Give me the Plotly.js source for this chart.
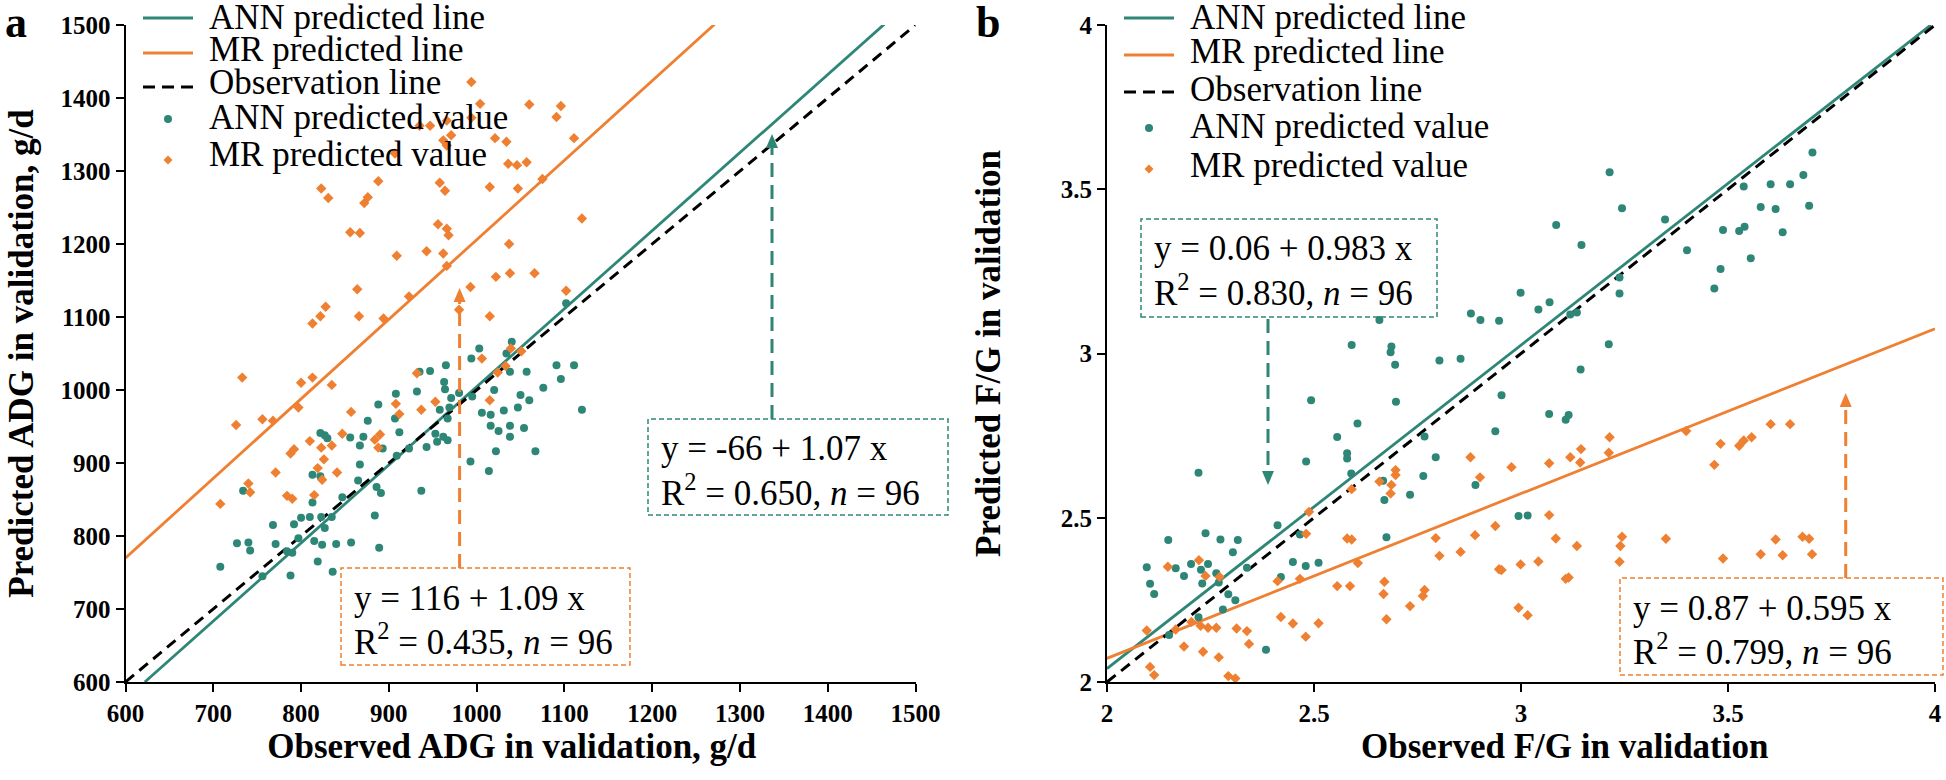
<!DOCTYPE html>
<html>
<head>
<meta charset="utf-8">
<script src="https://cdn.plot.ly/plotly-3.0.1.min.js"></script>
<style>
html,body{margin:0;padding:0;background:#ffffff;}
#chart{width:1946px;height:780px;}
</style>
</head>
<body>
<div id="chart"></div>
<script>
// ---------------- DATA ----------------
// Panel a: ADG (g/d), points as [observed, predicted]
const adgAnnPoints = [
 [1040,1066],[1003,1057],[994,1043],[1034,1050],[1102,1119],
 [708,758],[727,790],[740,791],[742,780],[734,862],[756,745],[768,815],[771,789],[784,779],[788,746],
 [790,777],[792,816],[797,797],[800,825],[810,826],[813,846],[813,884],[822,882],[815,793],[819,765],
 [823,826],[824,788],[827,811],[835,826],[836,751],[822,941],[827,938],[830,934],[840,789],[847,853],
 [857,791],[856,935],[865,876],[867,924],[867,898],[871,936],[876,958],[884,828],[886,867],[891,859],
 [889,784],[888,980],[893,920],[907,961],[908,995],[912,942],[909,910],[923,920],[932,998],[935,1025],
 [937,862],[943,922],[947,1026],[953,940],[955,929],[958,973],[962,936],[965,1034],[963,1011],[964,1001],
 [967,931],[967,961],[969,976],[971,989],[980,996],[993,902],[995,991],[1006,969],[1014,889],[1016,951],
 [1016,966],[1020,1000],[1022,916],[1025,944],[1031,972],[1038,1025],[1038,951],[1038,936],[1047,976],
 [1050,993],[1054,948],[1057,1025],[1060,986],[1067,916],[1076,1003],[1091,1034],[1096,1015],[1111,1034],[1120,973]
];
const adgMrPoints = [
 [994,1422],[1004,1392],[994,1373],[935,1362],[947,1362],[966,1369],[962,1342],[971,1349],[966,1335],
 [1021,1345],[1034,1340],[907,1324],[1036,1310],[1046,1308],[888,1286],[958,1284],[964,1273],[1015,1278],
 [1047,1276],[823,1276],[831,1263],[876,1264],[872,1256],[856,1216],[867,1215],[956,1227],[966,1221],
 [968,1212],[1037,1200],[909,1184],[943,1190],[962,1187],
 [1060,1391],[1096,1389],[1091,1374],[1111,1345],[1057,1312],[1075,1289],[1120,1235],[966,1170],
 [1038,1160],[1022,1155],[1066,1160],[1102,1136],[864,1138],[828,1114],[822,1101],[813,1091],[866,1101],
 [894,1098],[923,1128],[993,1141],[980,1110],[1015,1101],[1039,1057],[1006,1043],
 [733,1017],[813,1017],[800,1010],[835,1007],[797,976],[726,952],[756,960],[768,958],[857,970],[810,930],
 [823,921],[835,924],[788,913],[792,919],[826,905],[819,893],[824,877],[841,887],[847,940],[884,932],
 [890,939],[888,921],[771,887],[740,872],[742,860],[708,844],[784,855],[790,851],[815,856],[908,981],
 [912,967],[937,973],[932,1023],[953,984],[1015,986],[1024,1024],[1033,1033],[1051,1053]
];
// Panel b: F/G, points as [observed, predicted]
const fgAnnPoints = [
 [3.214,3.552],[3.244,3.442],[3.348,3.408],[3.085,3.391],[3.146,3.330],[3.401,3.314],[3.538,3.508],
 [3.603,3.515],[3.650,3.515],[3.579,3.446],[3.615,3.440],[3.488,3.376],[3.527,3.373],[3.540,3.386],
 [3.632,3.369],[3.555,3.290],[3.482,3.257],[3.467,3.198],[3.238,3.231],[3.238,3.183],[2.999,3.185],
 [3.042,3.134],[3.069,3.156],[3.119,3.119],[3.135,3.125],[2.879,3.122],[2.902,3.102],[2.947,3.100],
 [2.658,3.102],[2.591,3.026],[2.687,3.021],[2.685,3.004],[2.696,2.966],[2.803,2.979],[2.854,2.984],
 [3.212,3.028],[3.144,2.951],[3.704,3.612],[3.682,3.543],[3.696,3.450],
 [2.493,2.858],[2.698,2.853],[2.953,2.873],[2.605,2.787],[2.556,2.746],[2.580,2.696],[2.580,2.680],
 [2.481,2.671],[2.590,2.635],[2.767,2.747],[2.794,2.684],[2.764,2.627],[2.667,2.613],[2.670,2.554],
 [2.732,2.570],[2.675,2.441],[2.938,2.763],[2.890,2.600],[3.068,2.816],[3.108,2.798],[3.115,2.813],
 [2.994,2.505],[3.016,2.507],[2.412,2.477],[2.466,2.449],[2.420,2.320],[2.449,2.365],[2.480,2.353],
 [2.511,2.363],[2.338,2.348],[2.384,2.098],
 [2.221,2.637],[2.148,2.432],[2.238,2.453],[2.274,2.434],[2.316,2.432],[2.304,2.395],[2.096,2.349],
 [2.104,2.299],[2.114,2.268],[2.166,2.346],[2.186,2.323],[2.203,2.359],[2.227,2.342],[2.244,2.359],
 [2.230,2.300],[2.264,2.331],[2.270,2.303],[2.293,2.267],[2.310,2.249],[2.280,2.221],[2.221,2.197],[2.150,2.143]
];
const fgMrPoints = [
 [2.697,2.645],[2.697,2.630],[2.658,2.610],[2.687,2.600],[2.685,2.574],[2.591,2.587],[2.878,2.684],
 [2.901,2.623],[2.977,2.654],[3.068,2.666],[3.119,2.684],[3.145,2.709],[3.143,2.668],[3.214,2.745],
 [3.212,2.698],[3.399,2.764],[3.482,2.725],[3.467,2.661],[3.527,2.719],[3.538,2.735],[3.557,2.745],
 [3.603,2.785],[3.650,2.785],[2.481,2.451],[2.580,2.437],[2.591,2.434],[2.794,2.438],[2.889,2.447],
 [2.938,2.475],[3.068,2.508],[3.084,2.437],[3.135,2.414],[3.244,2.442],[3.240,2.414],[3.238,2.366],
 [3.350,2.436],[3.488,2.376],[3.579,2.389],[3.615,2.434],[3.632,2.386],[2.803,2.384],[2.854,2.396],
 [2.606,2.362],[2.412,2.307],[2.466,2.314],[2.556,2.292],[2.587,2.292],[2.670,2.305],[2.668,2.268],
 [2.767,2.280],[2.763,2.262],[2.732,2.231],[2.675,2.191],[2.947,2.343],[2.953,2.341],[2.999,2.358],
 [3.042,2.367],[2.994,2.226],[3.016,2.203],[3.108,2.314],[3.115,2.318],[2.420,2.198],[2.449,2.178],
 [2.480,2.138],[2.511,2.179],[2.338,2.155],[2.343,2.116],[3.680,2.442],[3.696,2.436],[3.703,2.389],
 [2.222,2.371],[2.147,2.351],[2.238,2.323],[2.272,2.320],[2.096,2.157],[2.166,2.160],[2.204,2.183],
 [2.226,2.171],[2.244,2.165],[2.264,2.165],[2.186,2.108],[2.232,2.092],[2.270,2.075],[2.104,2.046],
 [2.114,2.021],[2.293,2.018],[2.310,2.011],[2.313,2.163],[2.488,2.518]
];
// Fitted / reference line end points
const adgAnnLineX = [622, 1470], adgAnnLineY = [600, 1507];
const adgMrLineX  = [600, 1272], adgMrLineY  = [770, 1502];
const adgObsLineX = [600, 1500], adgObsLineY = [600, 1500];
const fgAnnLineX  = [2, 3.99],   fgAnnLineY  = [2.041, 4.0];
const fgMrLineX   = [2, 4],      fgMrLineY   = [2.072, 3.075];
const fgObsLineX  = [2, 4],      fgObsLineY  = [2, 4];
// Ticks
const adgTicks = [600,700,800,900,1000,1100,1200,1300,1400,1500];
const fgTicks = [2,2.5,3,3.5,4];
// Texts
const legendNames = ["ANN predicted line","MR predicted line","Observation line","ANN predicted value","MR predicted value"];
const eqA_mr  = ["y = 116 + 1.09 x", "R<sup>2</sup> = 0.435, <i>n</i> = 96"];
const eqA_ann = ["y = -66 + 1.07 x", "R<sup>2</sup> = 0.650, <i>n</i> = 96"];
const eqB_ann = ["y = 0.06 + 0.983 x", "R<sup>2</sup> = 0.830, <i>n</i> = 96"];
const eqB_mr  = ["y = 0.87 + 0.595 x", "R<sup>2</sup> = 0.799, <i>n</i> = 96"];

// ---------------- STYLE ----------------
const W = 1946, H = 780;
const TEAL = '#2e8677', ORANGE = '#ef7f31';
const SERIF = 'Liberation Serif, Times New Roman, serif';
const px = X => X / W;
const py = Y => 1 - Y / H;
const col = (pts, i) => pts.map(p => p[i]);

function lineTrace(x, y, xa, ya, color, dash, width) {
  return {x, y, xaxis: xa, yaxis: ya, mode: 'lines', showlegend: false, hoverinfo: 'skip',
          line: {color, width, dash: dash || 'solid'}};
}
function ptsTrace(pts, xa, ya, color, symbol, size) {
  return {x: col(pts,0), y: col(pts,1), xaxis: xa, yaxis: ya, mode: 'markers', showlegend: false,
          hoverinfo: 'skip', cliponaxis: false, marker: {color, symbol, size, line: {width: 0}}};
}

const traces = [
  lineTrace(adgAnnLineX, adgAnnLineY, 'x', 'y', TEAL, 'solid', 2.8),
  lineTrace(adgMrLineX, adgMrLineY, 'x', 'y', ORANGE, 'solid', 2.8),
  lineTrace(adgObsLineX, adgObsLineY, 'x', 'y', '#000', '11px,7px', 3),
  ptsTrace(adgAnnPoints, 'x', 'y', TEAL, 'circle', 8),
  ptsTrace(adgMrPoints, 'x', 'y', ORANGE, 'diamond', 8),
  lineTrace(fgAnnLineX, fgAnnLineY, 'x2', 'y2', TEAL, 'solid', 2.8),
  lineTrace(fgMrLineX, fgMrLineY, 'x2', 'y2', ORANGE, 'solid', 2.8),
  lineTrace(fgObsLineX, fgObsLineY, 'x2', 'y2', '#000', '11px,7px', 3),
  ptsTrace(fgAnnPoints, 'x2', 'y2', TEAL, 'circle', 8),
  ptsTrace(fgMrPoints, 'x2', 'y2', ORANGE, 'diamond', 8)
];

const tickFont = {family: SERIF, size: 25, color: '#000', weight: 'bold'};
const titleFont = {family: SERIF, size: 35, color: '#000', weight: 'bold'};
function axis(extra) {
  return Object.assign({
    showline: true, linecolor: '#000', linewidth: 2, mirror: false,
    ticks: 'outside', ticklen: 8, tickwidth: 2, tickcolor: '#000',
    showgrid: false, zeroline: false, automargin: false, fixedrange: true,
    tickfont: tickFont
  }, extra);
}

const NB = '&nbsp;';
const yDom = [py(682), py(25)];
const layout = {
  width: W, height: H,
  margin: {l: 0, r: 0, t: 0, b: 0, pad: 0},
  paper_bgcolor: '#fff', plot_bgcolor: 'rgba(0,0,0,0)',
  showlegend: false,
  xaxis: axis({domain: [px(125.5), px(915.5)], range: [600, 1500], tickvals: adgTicks, anchor: 'y',
    title: {text: 'Observed ADG in validation, g/d' + NB.repeat(2), font: titleFont, standoff: 5}}),
  yaxis: axis({domain: yDom, range: [600, 1500], tickvals: adgTicks, anchor: 'x',
    title: {text: 'Predicted ADG in validation, g/d', font: titleFont, standoff: 16}}),
  xaxis2: axis({domain: [px(1107), px(1935)], range: [2, 4], tickvals: fgTicks, anchor: 'y2',
    title: {text: NB.repeat(10) + 'Observed F/G in validation', font: titleFont, standoff: 5}}),
  yaxis2: axis({domain: yDom, range: [2, 4], tickvals: fgTicks, anchor: 'x2',
    title: {text: 'Predicted F/G in validation', font: titleFont, standoff: 50}}),
  shapes: [],
  annotations: []
};

// Panel letters
layout.annotations.push({xref:'paper', yref:'paper', x: px(16), y: py(22), text: 'a', showarrow: false,
  xanchor: 'center', yanchor: 'middle', font: {family: SERIF, size: 44, color: '#000', weight: 'bold'}});
layout.annotations.push({xref:'paper', yref:'paper', x: px(988), y: py(22), text: 'b', showarrow: false,
  xanchor: 'center', yanchor: 'middle', font: {family: SERIF, size: 44, color: '#000', weight: 'bold'}});

// Custom legend (tight spacing as in the original)
function addLegend(symX0, textX, textYs, symYs) {
  const symX1 = symX0 + 50, mid = symX0 + 25;
  const S = layout.shapes, A = layout.annotations;
  S.push({type:'line', xref:'paper', yref:'paper', x0: px(symX0), x1: px(symX1), y0: py(symYs[0]), y1: py(symYs[0]), line:{color: TEAL, width: 2.8}});
  S.push({type:'line', xref:'paper', yref:'paper', x0: px(symX0), x1: px(symX1), y0: py(symYs[1]), y1: py(symYs[1]), line:{color: ORANGE, width: 2.8}});
  S.push({type:'line', xref:'paper', yref:'paper', x0: px(symX0), x1: px(symX1), y0: py(symYs[2]), y1: py(symYs[2]), line:{color: '#000', width: 3, dash: '12px,7px'}});
  S.push({type:'circle', xref:'paper', yref:'paper', x0: px(mid-4), x1: px(mid+4), y0: py(symYs[3]+4), y1: py(symYs[3]-4), fillcolor: TEAL, line:{width: 0}});
  const d = 4.5, cy = symYs[4];
  S.push({type:'path', xref:'paper', yref:'paper', fillcolor: ORANGE, line:{width: 0},
    path: `M ${px(mid)},${py(cy-d)} L ${px(mid+d)},${py(cy)} L ${px(mid)},${py(cy+d)} L ${px(mid-d)},${py(cy)} Z`});
  legendNames.forEach((t, i) => {
    A.push({xref:'paper', yref:'paper', x: px(textX), y: py(textYs[i]), text: t, showarrow: false,
      xanchor: 'left', yanchor: 'middle', font: {family: SERIF, size: 35, color: '#000'}});
  });
}
addLegend(143, 207, [17, 50, 83, 117, 155], [18, 53, 87, 119, 160]);
addLegend(1124, 1188, [17, 52, 89, 127, 165], [18, 55, 92, 128, 169]);

// Equation boxes with dashed borders and dashed arrows
function addBox(color, x0, x1, y0, y1, lines) {
  layout.shapes.push({type:'rect', xref:'paper', yref:'paper', x0: px(x0), x1: px(x1), y0: py(y1), y1: py(y0),
    line: {color, width: 1.5, dash: '5px,3px'}, fillcolor: 'rgba(0,0,0,0)'});
  lines.forEach((t, i) => {
    layout.annotations.push({xref:'paper', yref:'paper', x: px(x0 + 11), y: py(y0 + 30 + 41 * i), text: t,
      showarrow: false, xanchor: 'left', yanchor: 'middle', font: {family: SERIF, size: 35, color: '#000'}});
  });
}
function addArrow(color, X, yStart, yTip) {
  const dir = yTip < yStart ? 1 : -1; // 1 = pointing up
  const base = yTip + dir * 14;
  layout.shapes.push({type:'line', xref:'paper', yref:'paper', x0: px(X), x1: px(X), y0: py(yStart), y1: py(base),
    line: {color, width: 3, dash: '14px,8px'}});
  layout.shapes.push({type:'path', xref:'paper', yref:'paper', fillcolor: color, line: {width: 0},
    path: `M ${px(X)},${py(yTip)} L ${px(X-6)},${py(base)} L ${px(X+6)},${py(base)} Z`});
}
addBox(ORANGE, 341, 630, 568, 665, eqA_mr);
addArrow(ORANGE, 459.6, 568, 288);
addBox(TEAL, 648, 948, 419, 515, eqA_ann);
addArrow(TEAL, 772, 419, 134);
addBox(TEAL, 1141, 1437, 219, 317, eqB_ann);
addArrow(TEAL, 1268, 319, 485);
addBox(ORANGE, 1620, 1943, 578, 675, eqB_mr);
addArrow(ORANGE, 1845.7, 578, 393);

Plotly.newPlot('chart', traces, layout, {displayModeBar: false, staticPlot: true});
</script>
</body>
</html>
